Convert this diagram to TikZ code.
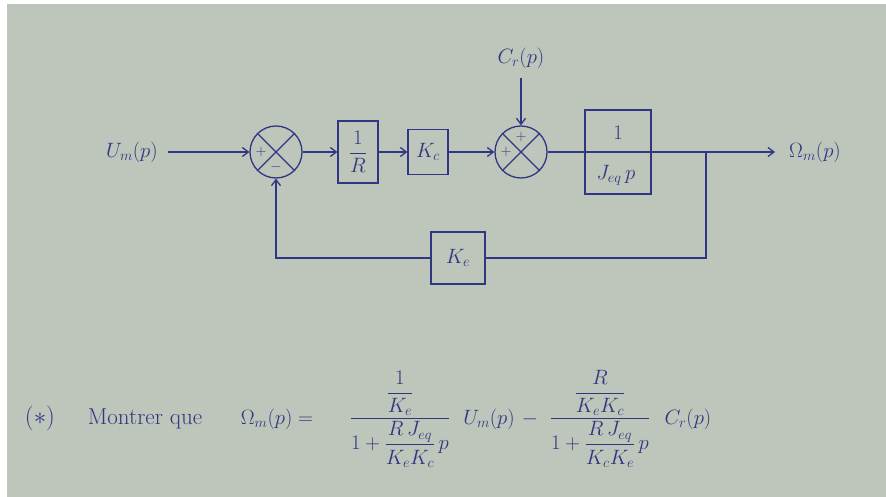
\documentclass[tikz,border=0pt]{standalone}
\usepackage{amsmath}
\usetikzlibrary{arrows.meta}
\definecolor{paper}{RGB}{190,197,186}
\definecolor{ink}{RGB}{48,55,130}
\begin{document}
\begin{tikzpicture}[x=1pt,y=-1pt,
  wire/.style={draw=ink,line width=1.3pt},
  arr/.style={wire,-{Straight Barb[length=6pt,width=9pt]}},
  blockbox/.style={draw=ink,line width=1.3pt,rectangle,inner sep=0pt,text=ink,font=\fontsize{20}{24}\selectfont},
  sumj/.style={draw=ink,line width=1.3pt,circle,minimum size=52pt,inner sep=0pt},
  sign/.style={text=ink,font=\fontsize{14}{16}\selectfont,inner sep=0pt},
  lbl/.style={text=ink,font=\fontsize{20}{24}\selectfont,inner sep=0pt},
  eq/.style={lbl,anchor=base},
]
\fill[white] (0,0) rectangle (886,497);
\fill[paper] (7,4) rectangle (886,497);
\useasboundingbox (0,0) rectangle (886,497);

% forward path
\node[lbl] (um) at (132,152) {$U_m(p)$};
\node[sumj] (s1) at (276,152) {};
\draw[wire] (s1.north west) -- (s1.south east) (s1.north east) -- (s1.south west);
\node[sign] (s1a) at (261,152) {$+$};
\node[sign] (s1b) at (276,167) {$-$};

\node[blockbox,minimum width=40pt,minimum height=62pt] (g1) at (358,152) {$\dfrac{1}{R}$};
\node[blockbox,minimum width=40pt,minimum height=45pt] (kc) at (428,152) {$K_c$};

\node[lbl] (cr) at (521,58) {$C_r(p)$};
\node[sumj] (s2) at (521,152) {};
\draw[wire] (s2.north west) -- (s2.south east) (s2.north east) -- (s2.south west);
\node[sign] (s2a) at (506,152) {$+$};
\node[sign] (s2b) at (521,137) {$+$};

\node[blockbox,minimum width=66pt,minimum height=84pt] (jeq) at (618,152) {};
\draw[wire] (jeq.west) -- (jeq.east);
\node[lbl] (jn) at (618,133) {$1$};
\node[lbl] (jd) at (616,175) {$J_{eq}\,p$};

\node[lbl] (om) at (815,152) {$\Omega_m(p)$};
\coordinate (br) at (706,152);

% feedback
\node[blockbox,minimum width=54pt,minimum height=52pt] (ke) at (458,258) {$K_e$};

% connectors
\draw[arr,shorten <=10pt] (um.east) -- (s1.west);
\draw[arr] (s1.east) -- (g1.west);
\draw[arr] (g1.east) -- (kc.west);
\draw[arr] (kc.east) -- (s2.west);
\draw[arr,shorten <=9pt] (cr.south) -- (s2.north);
\draw[wire] (s2.east) -- (jeq.west);
\draw[arr,shorten >=14pt] (jeq.east) -- (om.west);
\draw[wire] (br) |- (ke.east);
\draw[arr] (ke.west) -| (s1.south);

% equation
\node[eq,font=\fontsize{23}{26}\selectfont] (star) at (40,424) {$(\ast)$};
\node[eq,font=\fontsize{23}{26}\selectfont] (mq) at (145,424) {Montrer que};
\node[eq] (lhs) at (277,424) {$\Omega_m(p) =$};
\node[eq] (f1) at (400,424) {$\dfrac{\dfrac{1}{K_e}}{1+\dfrac{R\,J_{eq}}{K_e K_c}\,p}$};
\node[eq] (u2) at (489,424) {$U_m(p)$};
\node[eq] (mn) at (530,424) {$-$};
\node[eq] (f2) at (600,424) {$\dfrac{\dfrac{R}{K_e K_c}}{1+\dfrac{R\,J_{eq}}{K_c K_e}\,p}$};
\node[eq] (c2) at (688,424) {$C_r(p)$};
\end{tikzpicture}
\end{document}
